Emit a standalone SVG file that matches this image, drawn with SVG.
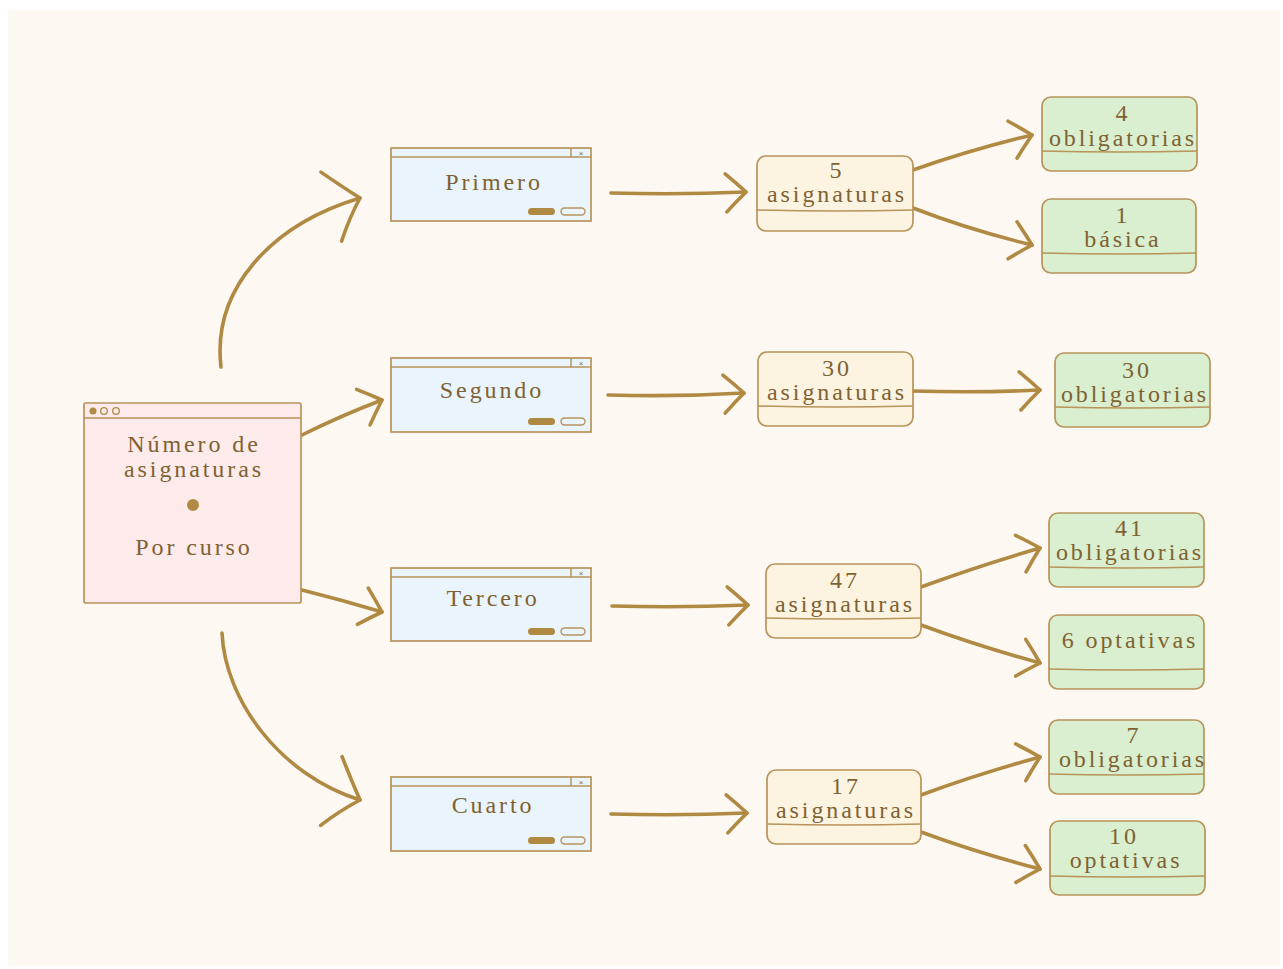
<svg xmlns="http://www.w3.org/2000/svg" width="1283" height="969" viewBox="0 0 1283 969">
  <defs>
    <style>
      .txt { font-family: "Liberation Serif", "DejaVu Serif", serif; font-size: 24px; letter-spacing: 2.9px; fill: #7f6232; text-anchor: middle; }
      .box { stroke: #b8935a; stroke-width: 1.7; }
      .root { fill: #fdeaea; }
      .win { fill: #eaf4fc; }
      .count { fill: #fdf3e1; }
      .leaf { fill: #d9efcf; }
      .sep { stroke: #b8935a; stroke-width: 1.5; fill: none; }
      .link { fill: none; stroke: #b08a42; stroke-width: 3.6; stroke-linecap: round; }
      .btn-on { fill: #b08a42; }
      .btn-off { fill: none; stroke: #b8935a; stroke-width: 1.4; }
      .close { font-family: "Liberation Sans", sans-serif; font-size: 8px; fill: #8a6a35; text-anchor: middle; }
    </style>
    <marker id="headBig" markerUnits="userSpaceOnUse" orient="auto" markerWidth="80" markerHeight="80" refX="0" refY="0" overflow="visible">
      <path d="M-30,-36 Q -14,-16 0,0 Q -16,16 -30,36" fill="none" stroke="#b08a42" stroke-width="3.6" stroke-linecap="round" stroke-linejoin="round"/>
    </marker>
    <marker id="headMid" markerUnits="userSpaceOnUse" orient="auto" markerWidth="60" markerHeight="60" refX="0" refY="0" overflow="visible">
      <path d="M-20,-19 Q -9,-9 0,0 Q -10,9 -20,19" fill="none" stroke="#b08a42" stroke-width="3.6" stroke-linecap="round" stroke-linejoin="round"/>
    </marker>
  </defs>

  <!-- page -->
  <rect x="0" y="0" width="1283" height="969" fill="#ffffff"/>
  <rect x="8" y="10" width="1272" height="956" fill="#fdf8f2"/>

  <!-- connectors -->
  <g id="connectors">
    <path class="link" d="M221,367 C 212,290 270,225 360,198" marker-end="url(#headBig)"/>
    <path class="link" d="M302,435 Q 340,416 382,400" marker-end="url(#headMid)"/>
    <path class="link" d="M302,590 Q 342,600 382,612" marker-end="url(#headMid)"/>
    <path class="link" d="M222,633 C 225,700 280,775 360,800" marker-end="url(#headBig)"/>

    <path class="link" d="M611,193 Q 680,195 746,192" marker-end="url(#headMid)"/>
    <path class="link" d="M608,395 Q 676,397 744,393" marker-end="url(#headMid)"/>
    <path class="link" d="M612,606 Q 680,608 748,605" marker-end="url(#headMid)"/>
    <path class="link" d="M611,814 Q 680,816 747,813" marker-end="url(#headMid)"/>

    <path class="link" d="M913,170 Q 970,150 1032,135" marker-end="url(#headMid)"/>
    <path class="link" d="M913,208 Q 970,230 1032,245" marker-end="url(#headMid)"/>
    <path class="link" d="M913,391 Q 976,393 1040,390" marker-end="url(#headMid)"/>
    <path class="link" d="M921,587 Q 978,566 1040,548" marker-end="url(#headMid)"/>
    <path class="link" d="M921,625 Q 978,646 1040,663" marker-end="url(#headMid)"/>
    <path class="link" d="M921,795 Q 978,774 1040,757" marker-end="url(#headMid)"/>
    <path class="link" d="M921,832 Q 978,853 1040,869" marker-end="url(#headMid)"/>
  </g>

  <!-- root -->
  <g id="root">
    <rect class="box root" x="84" y="403" width="217" height="200" rx="2"/>
    <path class="sep" d="M84,418 L301,418"/>
    <circle cx="93" cy="411" r="3.5" fill="#b08a42"/>
    <circle cx="104" cy="411" r="3.3" fill="none" stroke="#b08a42" stroke-width="1.3"/>
    <circle cx="116" cy="411" r="3.3" fill="none" stroke="#b08a42" stroke-width="1.3"/>
    <text class="txt" x="194" y="452">Número de</text>
    <text class="txt" x="194" y="477">asignaturas</text>
    <circle cx="193" cy="505" r="6" fill="#b08a42"/>
    <text class="txt" x="194" y="555">Por curso</text>
  </g>

  <!-- year windows -->
  <g id="primero">
    <rect class="box win" x="391" y="148" width="200" height="73"/>
    <path class="sep" d="M391,157 L591,157 M571,148 L571,157"/>
    <text class="close" x="581" y="156">×</text>
    <text class="txt" x="494" y="190">Primero</text>
    <rect class="btn-on" x="528" y="208" width="27" height="7" rx="3.5"/>
    <rect class="btn-off" x="561" y="208" width="24" height="7" rx="3.5"/>
  </g>
  <g id="segundo">
    <rect class="box win" x="391" y="358" width="200" height="74"/>
    <path class="sep" d="M391,367 L591,367 M571,358 L571,367"/>
    <text class="close" x="581" y="366">×</text>
    <text class="txt" x="492" y="398">Segundo</text>
    <rect class="btn-on" x="528" y="418" width="27" height="7" rx="3.5"/>
    <rect class="btn-off" x="561" y="418" width="24" height="7" rx="3.5"/>
  </g>
  <g id="tercero">
    <rect class="box win" x="391" y="568" width="200" height="73"/>
    <path class="sep" d="M391,577 L591,577 M571,568 L571,577"/>
    <text class="close" x="581" y="576">×</text>
    <text class="txt" x="493" y="606">Tercero</text>
    <rect class="btn-on" x="528" y="628" width="27" height="7" rx="3.5"/>
    <rect class="btn-off" x="561" y="628" width="24" height="7" rx="3.5"/>
  </g>
  <g id="cuarto">
    <rect class="box win" x="391" y="777" width="200" height="74"/>
    <path class="sep" d="M391,786 L591,786 M571,777 L571,786"/>
    <text class="close" x="581" y="785">×</text>
    <text class="txt" x="493" y="813">Cuarto</text>
    <rect class="btn-on" x="528" y="837" width="27" height="7" rx="3.5"/>
    <rect class="btn-off" x="561" y="837" width="24" height="7" rx="3.5"/>
  </g>

  <!-- subject counts -->
  <g id="total-primero">
    <rect class="box count" x="757" y="156" width="156" height="75" rx="9"/>
    <path class="sep" d="M757,210 Q 835,212 913,210"/>
    <text class="txt" x="837" y="178">5</text>
    <text class="txt" x="837" y="202">asignaturas</text>
  </g>
  <g id="total-segundo">
    <rect class="box count" x="758" y="352" width="155" height="74" rx="9"/>
    <path class="sep" d="M758,406 Q 835,408 913,406"/>
    <text class="txt" x="837" y="376">30</text>
    <text class="txt" x="837" y="400">asignaturas</text>
  </g>
  <g id="total-tercero">
    <rect class="box count" x="766" y="564" width="155" height="74" rx="9"/>
    <path class="sep" d="M766,618 Q 843,620 921,618"/>
    <text class="txt" x="845" y="588">47</text>
    <text class="txt" x="845" y="612">asignaturas</text>
  </g>
  <g id="total-cuarto">
    <rect class="box count" x="767" y="770" width="154" height="74" rx="9"/>
    <path class="sep" d="M767,824 Q 844,826 921,824"/>
    <text class="txt" x="846" y="794">17</text>
    <text class="txt" x="846" y="818">asignaturas</text>
  </g>

  <!-- breakdown -->
  <g id="primero-obligatorias">
    <rect class="box leaf" x="1042" y="97" width="155" height="74" rx="9"/>
    <path class="sep" d="M1042,151 Q 1120,153 1197,151"/>
    <text class="txt" x="1123" y="121">4</text>
    <text class="txt" x="1123" y="146">obligatorias</text>
  </g>
  <g id="primero-basica">
    <rect class="box leaf" x="1042" y="199" width="154" height="74" rx="9"/>
    <path class="sep" d="M1042,253 Q 1120,255 1196,253"/>
    <text class="txt" x="1123" y="223">1</text>
    <text class="txt" x="1123" y="247">básica</text>
  </g>
  <g id="segundo-obligatorias">
    <rect class="box leaf" x="1055" y="353" width="155" height="74" rx="9"/>
    <path class="sep" d="M1055,407 Q 1132,409 1210,407"/>
    <text class="txt" x="1137" y="378">30</text>
    <text class="txt" x="1135" y="402">obligatorias</text>
  </g>
  <g id="tercero-obligatorias">
    <rect class="box leaf" x="1049" y="513" width="155" height="74" rx="9"/>
    <path class="sep" d="M1049,567 Q 1126,569 1204,567"/>
    <text class="txt" x="1130" y="536">41</text>
    <text class="txt" x="1130" y="560">obligatorias</text>
  </g>
  <g id="tercero-optativas">
    <rect class="box leaf" x="1049" y="615" width="155" height="74" rx="9"/>
    <path class="sep" d="M1049,669 Q 1126,671 1204,669"/>
    <text class="txt" x="1130" y="648">6 optativas</text>
  </g>
  <g id="cuarto-obligatorias">
    <rect class="box leaf" x="1049" y="720" width="155" height="74" rx="9"/>
    <path class="sep" d="M1049,774 Q 1126,776 1204,774"/>
    <text class="txt" x="1134" y="743">7</text>
    <text class="txt" x="1133" y="767">obligatorias</text>
  </g>
  <g id="cuarto-optativas">
    <rect class="box leaf" x="1050" y="821" width="155" height="74" rx="9"/>
    <path class="sep" d="M1050,876 Q 1127,878 1205,876"/>
    <text class="txt" x="1124" y="844">10</text>
    <text class="txt" x="1126" y="868">optativas</text>
  </g>
</svg>
